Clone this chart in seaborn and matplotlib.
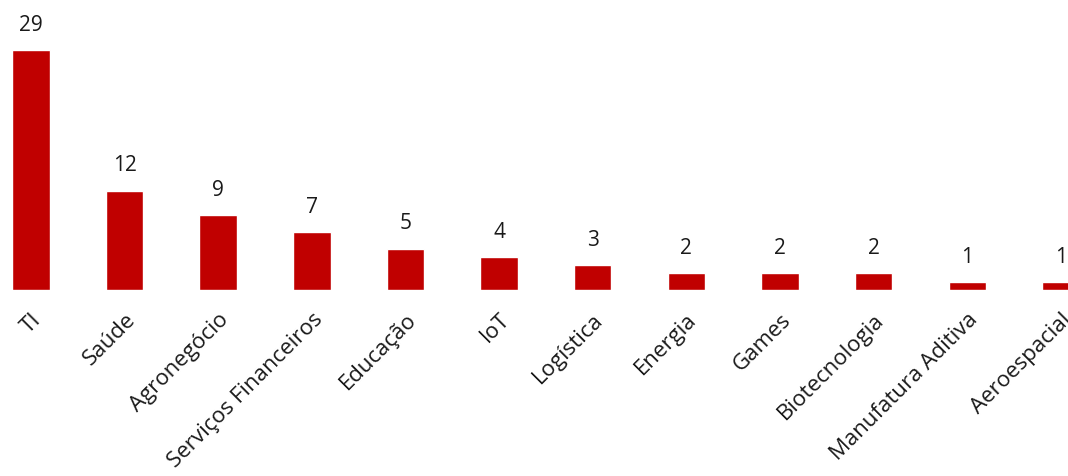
import pandas as pd
import seaborn as sns
import matplotlib.pyplot as plt

# setores e quantidade
setores = ['TI', 'Saúde', 'Agronegócio', 'Serviços Financeiros', 'Educação', 'IoT',
           'Logística', 'Energia', 'Games', 'Biotecnologia', 'Manufatura Aditiva', 'Aeroespacial']
quantidade = [29, 12, 9, 7, 5, 4, 3, 2, 2, 2, 1, 1]

df = pd.DataFrame({'setor': setores, 'qtd': quantidade})

sns.set_theme(style='white')
plt.rcParams['font.family'] = ['Open Sans', 'DejaVu Sans']

fig = plt.figure(figsize=(10.68, 4.76), dpi=100)
ax = fig.add_axes([0, 1 - 290 / 476, 1, 290 / 476])

sns.barplot(data=df, x='setor', y='qtd', color='#C00000', width=0.4, saturation=1, ax=ax)

for i, v in enumerate(quantidade):
    ax.text(i, v + 1.7, str(v), ha='center', va='bottom', fontsize=15, color='#1a1a1a')

ax.set_xlim(-0.33, 11.075)
ax.set_ylim(0, 35)
ax.set_xlabel('')
ax.set_ylabel('')
ax.set_yticks([])
ax.tick_params(axis='x', length=0, pad=14)
ax.set_xticks(range(len(setores)))
ax.set_xticklabels(setores, rotation=45, ha='right', rotation_mode='anchor', fontsize=16, color='#1a1a1a')
for s in ax.spines.values():
    s.set_visible(False)

fig.savefig('out.png', dpi=100)
